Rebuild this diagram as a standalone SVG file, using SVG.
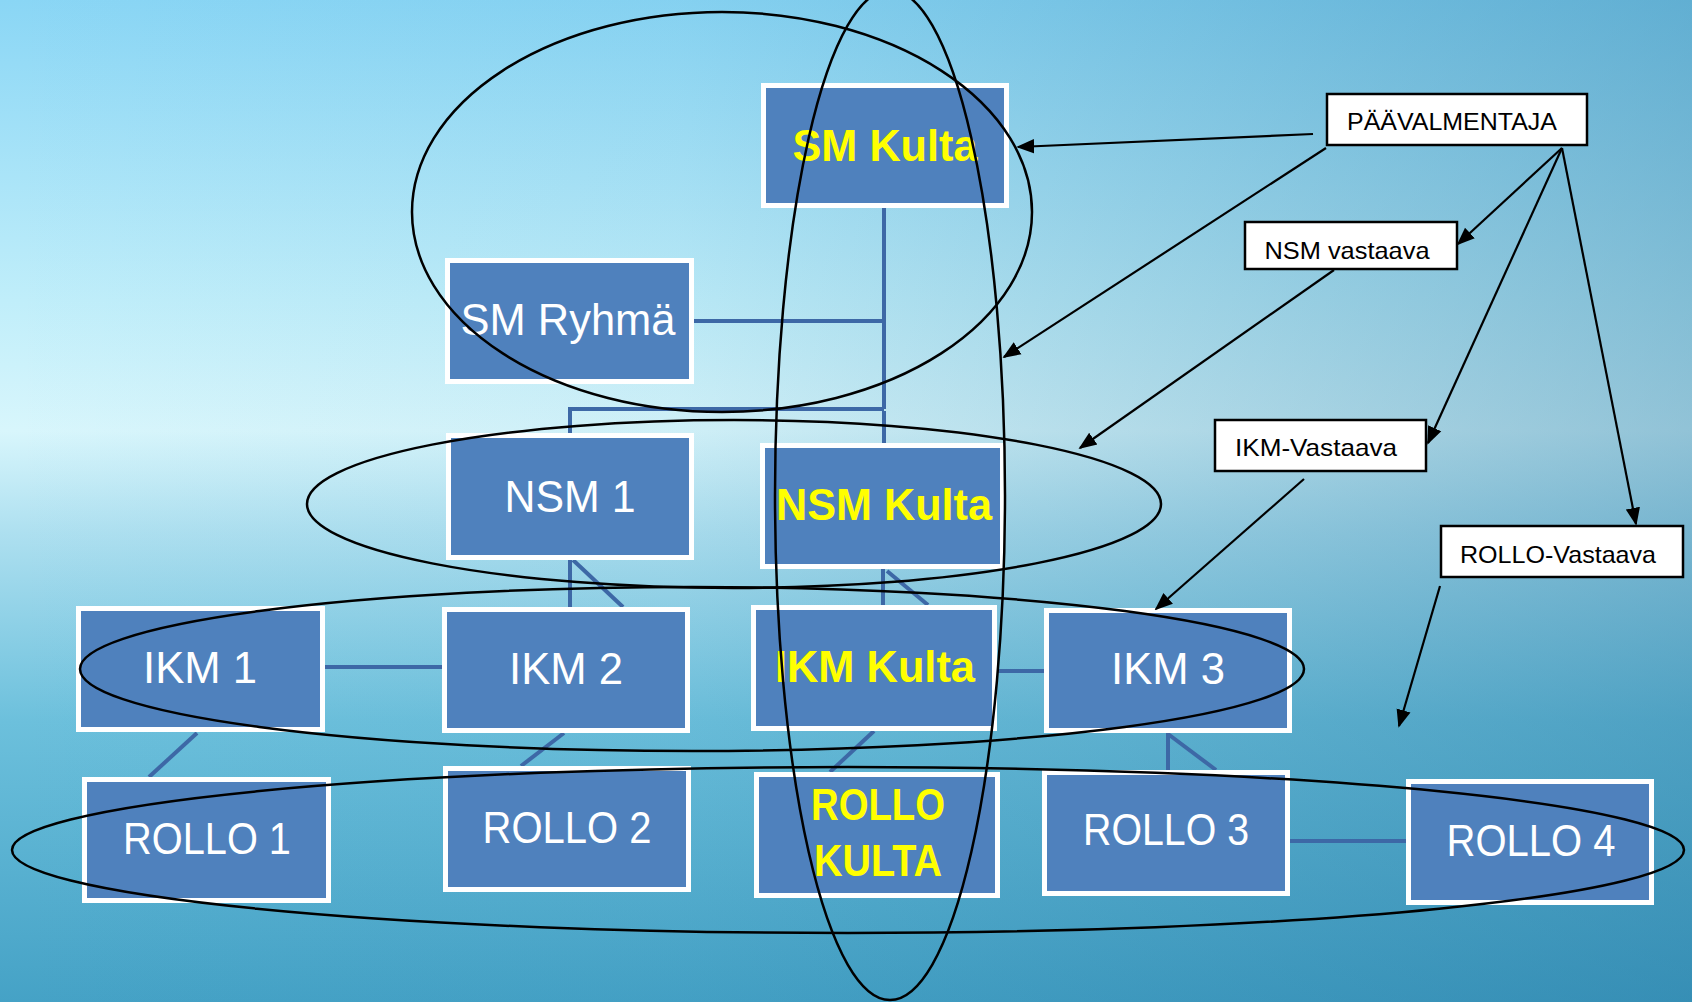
<svg xmlns="http://www.w3.org/2000/svg" width="1692" height="1002" viewBox="0 0 1692 1002">
<defs>
<linearGradient id="bgv" x1="0" y1="0" x2="0" y2="1">
<stop offset="0" stop-color="#8ad6f5"/>
<stop offset="0.3" stop-color="#c0eefa"/>
<stop offset="0.43" stop-color="#d8f6fc"/>
<stop offset="0.53" stop-color="#aee0f0"/>
<stop offset="0.72" stop-color="#6cc0dc"/>
<stop offset="1" stop-color="#45a2c6"/>
</linearGradient>
<linearGradient id="bgh" x1="0" y1="0" x2="1" y2="0">
<stop offset="0" stop-color="#1e6f9a" stop-opacity="0"/>
<stop offset="0.4" stop-color="#1e6f9a" stop-opacity="0.05"/>
<stop offset="1" stop-color="#1e6f9a" stop-opacity="0.38"/>
</linearGradient>
<marker id="ahb" viewBox="0 0 10 10" refX="9" refY="5" markerWidth="18" markerHeight="18" markerUnits="userSpaceOnUse" orient="auto">
<path d="M0,1 L10,5 L0,9 z" fill="#000"/>
</marker>
</defs>
<style>
.node rect{fill:#4f81bd;stroke:#fff;stroke-width:5}
.node text{font-family:"Liberation Sans",Arial,sans-serif;font-size:45px;fill:#fff;text-anchor:middle}
.node text.gold{fill:#ffff00;font-weight:bold}
.lab rect{fill:#fff;stroke:#000;stroke-width:2.5}
.lab text{font-family:"Liberation Sans",Arial,sans-serif;font-size:24px;fill:#000;text-anchor:middle}
.conn path{fill:none;stroke:#3d68a6;stroke-width:4}
.ell ellipse{fill:none;stroke:#000;stroke-width:2.5}
.arr path{fill:none;stroke:#000;stroke-width:2.2;marker-end:url(#ahb)}
</style>
<rect x="0" y="0" width="1692" height="1002" fill="url(#bgv)"/>
<rect x="0" y="0" width="1692" height="1002" fill="url(#bgh)"/>

<g id="connectors" class="conn">
<path d="M884,208 V409"/>
<path d="M694,321 H884"/>
<path d="M570,433 V409 H884"/>
<path d="M884,411 V443"/>
<path d="M570,559 V607"/>
<path d="M573,560 L623,607"/>
<path d="M324,667 H442"/>
<path d="M883,569 V605"/>
<path d="M887,571 L928,605"/>
<path d="M997,671 H1044"/>
<path d="M197,733 L149,777"/>
<path d="M564,733 L521,766"/>
<path d="M874,731 L830,772"/>
<path d="M1168,733 V770"/>
<path d="M1168,734 L1216,770"/>
<path d="M1290,841 H1406"/>
</g>

<g id="n-sm-kulta" class="node"><rect x="763.5" y="85.5" width="243" height="120"/><text class="gold" x="885" y="161" textLength="185" lengthAdjust="spacingAndGlyphs">SM Kulta</text></g>
<g id="n-sm-ryhma" class="node"><rect x="447.5" y="260.5" width="244" height="121"/><text x="568" y="335" textLength="215" lengthAdjust="spacingAndGlyphs">SM Ryhmä</text></g>
<g id="n-nsm1" class="node"><rect x="448.5" y="435.5" width="243" height="122"/><text x="570" y="512" textLength="131" lengthAdjust="spacingAndGlyphs">NSM 1</text></g>
<g id="n-nsm-kulta" class="node"><rect x="762.5" y="445.5" width="240" height="121"/><text class="gold" x="884" y="520" textLength="216" lengthAdjust="spacingAndGlyphs">NSM Kulta</text></g>
<g id="n-ikm1" class="node"><rect x="78.5" y="608.5" width="244" height="121"/><text x="200" y="683" textLength="114" lengthAdjust="spacingAndGlyphs">IKM 1</text></g>
<g id="n-ikm2" class="node"><rect x="444.5" y="609.5" width="243" height="121"/><text x="566" y="684" textLength="114" lengthAdjust="spacingAndGlyphs">IKM 2</text></g>
<g id="n-ikm-kulta" class="node"><rect x="753.5" y="607.5" width="241" height="121"/><text class="gold" x="875" y="682" textLength="200" lengthAdjust="spacingAndGlyphs">IKM Kulta</text></g>
<g id="n-ikm3" class="node"><rect x="1046.5" y="610.5" width="243" height="120"/><text x="1168" y="684" textLength="114" lengthAdjust="spacingAndGlyphs">IKM 3</text></g>
<g id="n-rollo1" class="node"><rect x="84.5" y="779.5" width="244" height="121"/><text x="207" y="854" textLength="168" lengthAdjust="spacingAndGlyphs">ROLLO 1</text></g>
<g id="n-rollo2" class="node"><rect x="445.5" y="768.5" width="243" height="121"/><text x="567" y="843" textLength="169" lengthAdjust="spacingAndGlyphs">ROLLO 2</text></g>
<g id="n-rollo-kulta" class="node"><rect x="756.5" y="774.5" width="241" height="121"/><text class="gold" x="878" y="820" textLength="134" lengthAdjust="spacingAndGlyphs">ROLLO</text><text class="gold" x="878" y="876" textLength="128" lengthAdjust="spacingAndGlyphs">KULTA</text></g>
<g id="n-rollo3" class="node"><rect x="1044.5" y="772.5" width="243" height="121"/><text x="1166" y="845" textLength="166" lengthAdjust="spacingAndGlyphs">ROLLO 3</text></g>
<g id="n-rollo4" class="node"><rect x="1408.5" y="781.5" width="243" height="121"/><text x="1531" y="856" textLength="169" lengthAdjust="spacingAndGlyphs">ROLLO 4</text></g>

<g id="l-paavalmentaja" class="lab"><rect x="1327" y="94" width="260" height="51"/><text x="1452" y="130" textLength="210" lengthAdjust="spacingAndGlyphs">PÄÄVALMENTAJA</text></g>
<g id="l-nsm-vastaava" class="lab"><rect x="1245" y="222" width="212" height="47"/><text x="1347" y="259" textLength="165" lengthAdjust="spacingAndGlyphs">NSM vastaava</text></g>
<g id="l-ikm-vastaava" class="lab"><rect x="1215" y="420" width="211" height="51"/><text x="1316" y="456" textLength="162" lengthAdjust="spacingAndGlyphs">IKM-Vastaava</text></g>
<g id="l-rollo-vastaava" class="lab"><rect x="1441" y="526" width="242" height="51"/><text x="1558" y="563" textLength="196" lengthAdjust="spacingAndGlyphs">ROLLO-Vastaava</text></g>

<g id="ellipses" class="ell">
<ellipse cx="722" cy="212" rx="310" ry="200"/>
<ellipse cx="734" cy="504" rx="427" ry="84"/>
<ellipse cx="692" cy="669" rx="612" ry="82"/>
<ellipse cx="848" cy="850" rx="836" ry="83"/>
<ellipse cx="890" cy="495" rx="115" ry="505"/>
</g>

<g id="arrows" class="arr">
<path d="M1313,134 L1018,147"/>
<path d="M1326,148 L1004,357"/>
<path d="M1562,148 L1458,244"/>
<path d="M1562,148 L1428,443"/>
<path d="M1562,148 L1636,524"/>
<path d="M1334,270 L1080,448"/>
<path d="M1304,479 L1156,609"/>
<path d="M1440,586 L1399,726"/>
</g>
</svg>
